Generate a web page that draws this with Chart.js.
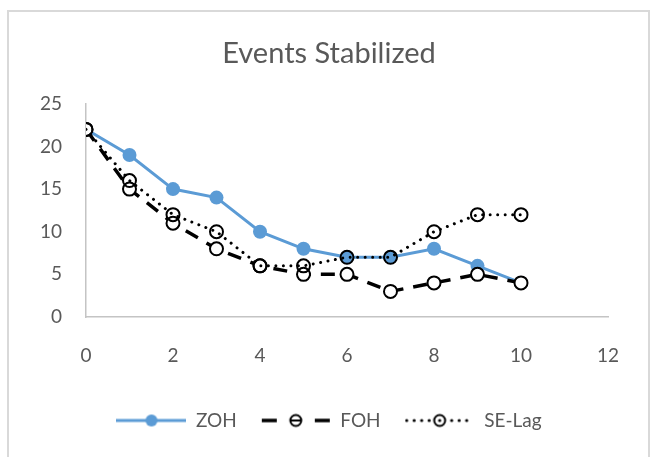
<!DOCTYPE html>
<html>
<head>
<meta charset="utf-8">
<script src="https://cdn.jsdelivr.net/npm/chart.js@4/dist/chart.umd.min.js"></script>
<style>
  html, body { margin: 0; padding: 0; background: #ffffff; }
  #wrap { position: relative; width: 650px; height: 457px; overflow: hidden; }
  #frame {
    position: absolute; left: 7px; top: 10px; width: 639px; height: 460px;
    border: 2px solid #d9d9d9; border-bottom: none; pointer-events: none;
  }
  canvas { position: absolute; left: 0; top: 0; }
</style>
</head>
<body>
<div id="wrap">
  <canvas id="chart" width="650" height="457"></canvas>
  <div id="frame"></div>
</div>
<script>
// Sample index along the horizontal axis
const steps = [0, 1, 2, 3, 4, 5, 6, 7, 8, 9, 10];

// Events stabilized per method
const zohEvents   = [22, 19, 15, 14, 10, 8, 7, 7, 8, 6, 4];
const fohEvents   = [22, 15, 11, 8, 6, 5, 5, 3, 4, 5, 4];
const seLagEvents = [22, 16, 12, 10, 6, 6, 7, 7, 10, 12, 12];

const seriesNames = ['ZOH', 'FOH', 'SE-Lag'];
const chartTitle = 'Events Stabilized';

const xTicks = [0, 2, 4, 6, 8, 10, 12];
const yTicks = [0, 5, 10, 15, 20, 25];

const FONT = "Lato, 'Open Sans', sans-serif";
const TEXT = '#595959';
const BLUE = '#5b9bd5';

const toPoints = (vals) => vals.map((v, i) => ({ x: steps[i], y: v }));

// Legend symbols: a short line sample with the series marker on it
function legendIcon(kind) {
  const c = document.createElement('canvas');
  c.width = 70; c.height = 16;
  const g = c.getContext('2d');
  const cy = 8, cx = 35;
  if (kind === 0) {
    g.strokeStyle = BLUE; g.lineWidth = 3;
    g.beginPath(); g.moveTo(0, cy); g.lineTo(70, cy); g.stroke();
    g.fillStyle = BLUE;
    g.beginPath(); g.arc(cx, cy, 6, 0, Math.PI * 2); g.fill();
  } else if (kind === 1) {
    g.strokeStyle = '#000'; g.lineWidth = 3.5; g.lineCap = 'butt';
    g.beginPath(); g.moveTo(1, cy); g.lineTo(16, cy); g.moveTo(54, cy); g.lineTo(69, cy); g.stroke();
    g.lineWidth = 2; g.fillStyle = '#fff';
    g.beginPath(); g.arc(cx, cy, 5.5, 0, Math.PI * 2); g.fill(); g.stroke();
    g.beginPath(); g.moveTo(cx - 5, cy); g.lineTo(cx + 5, cy); g.stroke();
  } else {
    g.fillStyle = '#000';
    for (let x = 2; x <= 68; x += 7.5) {
      if (Math.abs(x - cx) < 8) continue;
      g.beginPath(); g.arc(x, cy, 1.6, 0, Math.PI * 2); g.fill();
    }
    g.beginPath(); g.arc(cx, cy, 1.6, 0, Math.PI * 2); g.fill();
    g.strokeStyle = '#000'; g.lineWidth = 2;
    g.beginPath(); g.arc(cx, cy, 5.5, 0, Math.PI * 2); g.stroke();
  }
  return c;
}
const icons = [legendIcon(0), legendIcon(1), legendIcon(2)];

new Chart(document.getElementById('chart'), {
  type: 'line',
  data: {
    datasets: [
      {
        label: seriesNames[0],
        data: toPoints(zohEvents),
        borderColor: BLUE,
        borderWidth: 3,
        pointRadius: 7,
        pointBackgroundColor: BLUE,
        pointBorderColor: BLUE,
        pointBorderWidth: 0,
        order: 3
      },
      {
        label: seriesNames[1],
        data: toPoints(fohEvents),
        borderColor: '#000000',
        borderWidth: 3.5,
        borderDash: [14, 10],
        borderCapStyle: 'butt',
        pointRadius: 6.5,
        pointBackgroundColor: '#ffffff',
        pointBorderColor: '#000000',
        pointBorderWidth: 2,
        order: 2
      },
      {
        label: seriesNames[2],
        data: toPoints(seLagEvents),
        borderColor: '#000000',
        borderWidth: 3,
        borderDash: [0.01, 7.5],
        borderCapStyle: 'round',
        pointRadius: 6.5,
        pointBackgroundColor: 'rgba(0,0,0,0)',
        pointBorderColor: '#000000',
        pointBorderWidth: 2,
        order: 1
      }
    ]
  },
  options: {
    responsive: false,
    animation: false,
    layout: { padding: { left: 8, right: 0, top: 0, bottom: 17 } },
    scales: {
      x: {
        type: 'linear',
        min: 0, max: 12,
        afterBuildTicks: (s) => { s.ticks = xTicks.map(v => ({ value: v })); },
        afterFit: (s) => { s.height = 70; },
        grid: { display: false, drawTicks: false },
        border: { display: true, color: '#c4c4c4', width: 1.5 },
        ticks: { color: TEXT, font: { family: FONT, size: 19 }, padding: 27 }
      },
      y: {
        min: 0, max: 25,
        afterBuildTicks: (s) => { s.ticks = yTicks.map(v => ({ value: v })); },
        afterFit: (s) => { s.width = 78; },
        grid: { display: false, drawTicks: false },
        border: { display: true, color: '#c4c4c4', width: 1.5 },
        ticks: { color: TEXT, font: { family: FONT, size: 19 }, padding: 24 }
      },
      // empty right-hand axis that only reserves the margin on the right
      spacer: {
        type: 'linear',
        position: 'right',
        min: 0, max: 25,
        afterFit: (s) => { s.width = 42; },
        grid: { display: false, drawTicks: false },
        border: { display: false },
        ticks: { display: false }
      }
    },
    plugins: {
      title: {
        display: true,
        text: chartTitle,
        color: TEXT,
        font: { family: FONT, size: 29, weight: 'normal' },
        padding: { top: 36, bottom: 33 }
      },
      legend: {
        position: 'bottom',
        labels: {
          color: TEXT,
          font: { family: FONT, size: 19 },
          usePointStyle: true,
          pointStyleWidth: 70,
          padding: 24,
          sort: (a, b) => a.datasetIndex - b.datasetIndex,
          generateLabels: (chart) => {
            const items = Chart.defaults.plugins.legend.labels.generateLabels(chart);
            items.forEach((it) => { it.pointStyle = icons[it.datasetIndex]; });
            return items;
          }
        }
      },
      tooltip: { enabled: false }
    }
  }
});
</script>
</body>
</html>
